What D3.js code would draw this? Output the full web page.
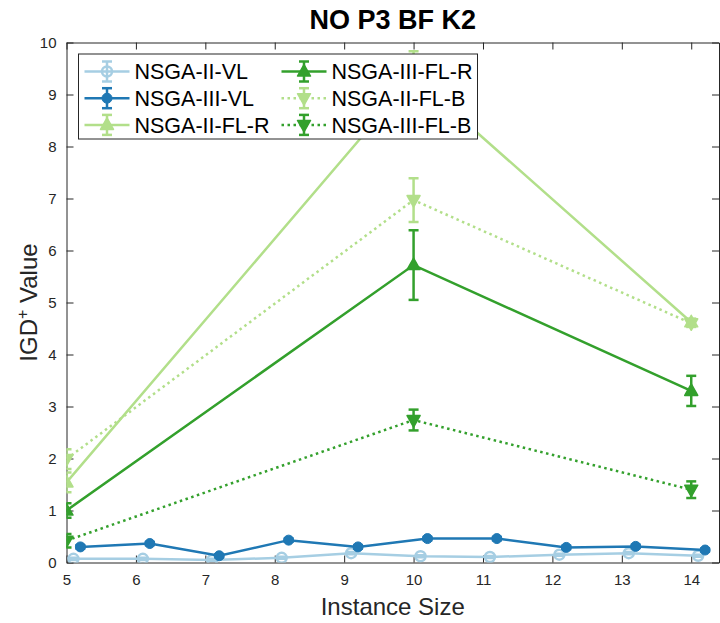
<!DOCTYPE html>
<html>
<head>
<meta charset="utf-8">
<script src="https://cdn.jsdelivr.net/npm/d3@7"></script>
<style>
  body { margin: 0; background: #fff; }
  svg { display: block; font-family: "Liberation Sans", Arial, sans-serif; }
</style>
</head>
<body>
<div id="chart"></div>
<script>
// Instance sizes on the x axis
const sizes = [5, 6, 7, 8, 9, 10, 11, 12, 13, 14];
const flSizes = [5, 10, 14];

// IGD+ means and errors per algorithm
const nsga2VL = [0.07, 0.07, 0.05, 0.09, 0.18, 0.12, 0.105, 0.15, 0.18, 0.13];
const nsga2VLErr = [0.02, 0.02, 0.02, 0.02, 0.02, 0.02, 0.02, 0.02, 0.02, 0.02];
const nsga3VL = [0.30, 0.365, 0.13, 0.43, 0.30, 0.46, 0.46, 0.29, 0.31, 0.24];
const nsga3VLErr = [0.03, 0.03, 0.03, 0.03, 0.03, 0.03, 0.03, 0.03, 0.03, 0.03];
const nsga2FLR = [1.54, 9.35, 4.62];
const nsga2FLRErr = [0.19, 0.48, 0.07];
const nsga3FLR = [1.0, 5.72, 3.30];
const nsga3FLRErr = [0.14, 0.67, 0.29];
const nsga2FLB = [1.99, 6.97, 4.60];
const nsga2FLBErr = [0.19, 0.42, 0.07];
const nsga3FLB = [0.42, 2.74, 1.40];
const nsga3FLBErr = [0.13, 0.20, 0.16];

const yTicks = [0, 1, 2, 3, 4, 5, 6, 7, 8, 9, 10];

class LineChart {

  constructor(_config) {
    this.config = {
      parentElement: _config.parentElement,
      containerWidth: _config.containerWidth,
      containerHeight: _config.containerHeight,
      margin: {top: 42.5, right: 1, bottom: 60.5, left: 66.5},
    }
    // series in plotting order (later ones drawn on top)
    this.series = [
      {name: "NSGA-II-VL", x: sizes, shift: 0.1, y: nsga2VL, err: nsga2VLErr, color: "#a6cee3", marker: "ocircle", dash: null},
      {name: "NSGA-III-VL", x: sizes, shift: 0.2, y: nsga3VL, err: nsga3VLErr, color: "#1f78b4", marker: "circle", dash: null},
      {name: "NSGA-II-FL-R", x: flSizes, shift: 0, y: nsga2FLR, err: nsga2FLRErr, color: "#b2df8a", marker: "up", dash: null},
      {name: "NSGA-III-FL-R", x: flSizes, shift: 0, y: nsga3FLR, err: nsga3FLRErr, color: "#33a02c", marker: "up", dash: null},
      {name: "NSGA-II-FL-B", x: flSizes, shift: 0, y: nsga2FLB, err: nsga2FLBErr, color: "#b2df8a", marker: "down", dash: "2.5,3.5"},
      {name: "NSGA-III-FL-B", x: flSizes, shift: 0, y: nsga3FLB, err: nsga3FLBErr, color: "#33a02c", marker: "down", dash: "2.5,3.5"},
    ];
    this.initVis();
  }

  initVis() {
    let vis = this;
    const m = vis.config.margin;
    vis.width = vis.config.containerWidth - m.left - m.right;
    vis.height = vis.config.containerHeight - m.top - m.bottom;

    vis.xScale = d3.scaleLinear().domain([5, 14.4]).range([0, vis.width]);
    vis.yScale = d3.scaleLinear().domain([0, 10]).range([vis.height, 0]);

    vis.svg = d3.select(vis.config.parentElement)
      .append('svg')
      .attr('width', vis.config.containerWidth)
      .attr('height', vis.config.containerHeight);

    vis.svg.append('defs').append('clipPath')
      .attr('id', 'plot-clip')
      .append('rect')
      .attr('width', vis.width)
      .attr('height', vis.height);

    vis.chartArea = vis.svg.append('g')
      .attr('transform', `translate(${m.left},${m.top})`);

    vis.renderAxes();
    vis.renderVis();
    vis.renderLegend();
    vis.renderLabels();
  }

  renderAxes() {
    let vis = this;
    const axisColour = "#262626";
    const tickLen = 7;

    // bottom axis, ticks pointing inward
    const xAxis = vis.chartArea.append('g')
      .attr('transform', `translate(0,${vis.height})`)
      .call(d3.axisBottom(vis.xScale).tickValues(sizes).tickSize(-tickLen).tickPadding(12).tickSizeOuter(0));
    // left axis
    const yAxis = vis.chartArea.append('g')
      .call(d3.axisLeft(vis.yScale).tickValues(yTicks).tickSize(-tickLen).tickPadding(10).tickSizeOuter(0));
    // top and right mirrored ticks
    const xTop = vis.chartArea.append('g')
      .call(d3.axisTop(vis.xScale).tickValues(sizes).tickSize(-tickLen).tickFormat('').tickSizeOuter(0));
    const yRight = vis.chartArea.append('g')
      .attr('transform', `translate(${vis.width},0)`)
      .call(d3.axisRight(vis.yScale).tickValues(yTicks).tickSize(-tickLen).tickFormat('').tickSizeOuter(0));

    [xAxis, yAxis, xTop, yRight].forEach(a => {
      a.select('.domain').attr('stroke', axisColour).attr('stroke-width', 1);
      a.selectAll('.tick line').attr('stroke', axisColour).attr('stroke-width', 1);
      a.selectAll('.tick text')
        .attr('fill', axisColour)
        .attr('font-size', 15)
        .attr('font-family', '"Liberation Sans", Arial, sans-serif');
    });
    yAxis.selectAll('.tick text').attr('dy', '0.35em');
  }

  markerPath(type) {
    if (type === 'up') return "M0,-7L6.5,4.5L-6.5,4.5Z";
    if (type === 'down') return "M0,7L6.5,-4.5L-6.5,-4.5Z";
    return null;
  }

  drawMarker(g, s, cx, cy) {
    let vis = this;
    if (s.marker === 'ocircle') {
      g.append('circle').attr('cx', cx).attr('cy', cy).attr('r', 5)
        .attr('fill', 'none').attr('stroke', s.color).attr('stroke-width', 2.5);
    } else if (s.marker === 'circle') {
      g.append('circle').attr('cx', cx).attr('cy', cy).attr('r', 5)
        .attr('fill', s.color).attr('stroke', s.color).attr('stroke-width', 1);
    } else {
      g.append('path').attr('d', vis.markerPath(s.marker))
        .attr('transform', `translate(${cx},${cy})`)
        .attr('fill', s.color).attr('stroke', s.color).attr('stroke-width', 1.5)
        .attr('stroke-linejoin', 'round');
    }
  }

  drawErrorBar(g, colour, cx, yLo, yHi) {
    const cap = 5;
    g.append('line').attr('x1', cx).attr('x2', cx).attr('y1', yLo).attr('y2', yHi)
      .attr('stroke', colour).attr('stroke-width', 2.5);
    [yLo, yHi].forEach(yy => {
      g.append('line').attr('x1', cx - cap).attr('x2', cx + cap).attr('y1', yy).attr('y2', yy)
        .attr('stroke', colour).attr('stroke-width', 2.5);
    });
  }

  renderVis() {
    let vis = this;

    const plot = vis.chartArea.append('g').attr('clip-path', 'url(#plot-clip)');

    const line = d3.line()
      .x(d => vis.xScale(d.x))
      .y(d => vis.yScale(d.y));

    vis.series.forEach(s => {
      const pts = s.x.map((x, i) => ({x: x + s.shift, y: s.y[i], e: s.err[i]}));
      const g = plot.append('g').attr('class', 'series');

      g.append('path')
        .datum(pts)
        .attr('d', line)
        .attr('fill', 'none')
        .attr('stroke', s.color)
        .attr('stroke-width', 2.5)
        .attr('stroke-dasharray', s.dash);

      pts.forEach(p => {
        const cx = vis.xScale(p.x);
        vis.drawErrorBar(g, s.color, cx, vis.yScale(p.y - p.e), vis.yScale(p.y + p.e));
        vis.drawMarker(g, s, cx, vis.yScale(p.y));
      });
    });
  }

  renderLegend() {
    let vis = this;
    const lx = 12, ly = 11.5, lw = 399, lh = 85;
    const legend = vis.chartArea.append('g')
      .attr('class', 'legend')
      .attr('transform', `translate(${lx},${ly})`);

    legend.append('rect')
      .attr('width', lw).attr('height', lh)
      .attr('fill', '#fff').attr('stroke', '#262626').attr('stroke-width', 1);

    // MATLAB fills legend column-wise: 3 rows x 2 columns
    vis.series.forEach((s, i) => {
      const col = Math.floor(i / 3), row = i % 3;
      const item = legend.append('g')
        .attr('class', 'item')
        .attr('transform', `translate(${6 + col * 197},${17.5 + row * 26.7})`);

      item.append('line')
        .attr('x1', 0).attr('x2', 45).attr('y1', 0).attr('y2', 0)
        .attr('stroke', s.color).attr('stroke-width', 2.5)
        .attr('stroke-dasharray', s.dash);
      vis.drawErrorBar(item, s.color, 22.5, 10, -10);
      vis.drawMarker(item, s, 22.5, 0);

      item.append('text')
        .attr('x', 50).attr('y', 0).attr('dy', '0.36em')
        .attr('font-size', 21.5)
        .attr('fill', '#000')
        .text(s.name);
    });
  }

  renderLabels() {
    let vis = this;
    const m = vis.config.margin;
    const cx = m.left + vis.width / 2;

    vis.svg.append('text')
      .attr('x', cx).attr('y', 29)
      .attr('text-anchor', 'middle')
      .attr('font-size', 27).attr('font-weight', 'bold')
      .attr('fill', '#000')
      .text('NO P3 BF K2');

    vis.svg.append('text')
      .attr('x', cx).attr('y', 615)
      .attr('text-anchor', 'middle')
      .attr('font-size', 24)
      .attr('fill', '#262626')
      .text('Instance Size');

    const yl = vis.svg.append('text')
      .attr('transform', `translate(37,${m.top + vis.height / 2}) rotate(-90)`)
      .attr('text-anchor', 'middle')
      .attr('font-size', 24)
      .attr('fill', '#262626');
    yl.append('tspan').text('IGD');
    yl.append('tspan').attr('font-size', 16).attr('dy', -9).text('+');
    yl.append('tspan').attr('dy', 9).text(' Value');
  }
}

new LineChart({parentElement: '#chart', containerWidth: 720, containerHeight: 623});
</script>
</body>
</html>
